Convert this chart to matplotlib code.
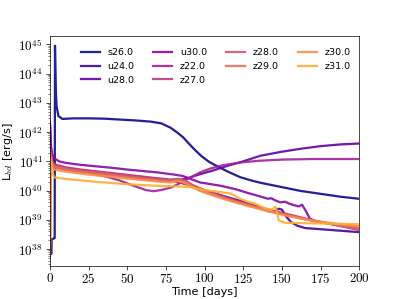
import numpy as np
import matplotlib
matplotlib.use("Agg")
import matplotlib.pyplot as plt
from matplotlib.ticker import FuncFormatter, LogLocator, NullFormatter

plt.rcParams['mathtext.fontset'] = 'cm'

labels = ["s26.0", "u24.0", "u28.0", "u30.0", "z22.0", "z27.0", "z28.0", "z29.0", "z30.0", "z31.0"]

# time (days) and log10 L_bol for each model
t_s26 = [0, 1.0, 1.1, 3.1, 3.3, 3.8, 4.3, 5.5, 8, 15, 25, 35, 45, 55, 65, 72, 78, 82, 86, 90, 94, 98,
         103, 108, 115, 123, 130, 136, 149, 162, 175, 188, 200]
l_s26 = [37.8, 37.85, 38.33, 38.38, 44.95, 43.5, 42.9, 42.55, 42.45, 42.47, 42.47, 42.46, 42.43, 42.4,
         42.36, 42.3, 42.15, 42.0, 41.83, 41.6, 41.38, 41.18, 40.98, 40.84, 40.65, 40.46, 40.35, 40.27,
         40.13, 39.99, 39.89, 39.79, 39.72]

t_u24 = [0, 0.5, 2, 4, 10, 20, 30, 40, 50, 60, 70, 80, 88, 97, 110, 123, 136, 141, 145, 148, 150, 153,
         156, 160, 165, 175, 185, 200]
l_u24 = [42.3, 41.5, 41.0, 40.85, 40.78, 40.7, 40.64, 40.58, 40.52, 40.46, 40.4, 40.33, 40.22, 40.06,
         39.85, 39.65, 39.42, 39.3, 39.28, 39.38, 39.35, 39.1, 38.92, 38.8, 38.72, 38.68, 38.64, 38.58]

t_u28 = [0, 0.5, 2, 4, 10, 20, 30, 40, 50, 60, 70, 78, 84, 90, 97, 105, 115, 125, 136, 150, 162, 175,
         188, 200]
l_u28 = [42.3, 41.4, 40.95, 40.8, 40.72, 40.65, 40.6, 40.54, 40.48, 40.42, 40.36, 40.33, 40.36, 40.44,
         40.56, 40.68, 40.85, 41.0, 41.19, 41.33, 41.43, 41.52, 41.58, 41.61]

t_u30 = [0, 0.5, 1.5, 3, 6, 10, 20, 30, 40, 50, 60, 70, 80, 86, 97, 110, 120, 128, 136, 141, 143, 146,
         149, 152, 155, 158, 161, 163, 165, 168, 172, 180, 190, 200]
l_u30 = [42.4, 41.6, 41.25, 41.1, 41.0, 40.95, 40.88, 40.83, 40.78, 40.72, 40.67, 40.62, 40.55, 40.5,
         40.28, 40.17, 40.05, 39.92, 39.8, 39.72, 39.74, 39.66, 39.6, 39.62, 39.55, 39.5, 39.46, 39.52,
         39.35, 39.05, 38.95, 38.88, 38.8, 38.72]

t_z22 = [0, 0.4, 1.5, 3, 8, 15, 26, 35, 45, 55, 62, 67, 72, 78, 84, 91, 97, 104, 112, 123, 135, 150,
         170, 200]
l_z22 = [37.8, 41.3, 41.0, 40.85, 40.78, 40.72, 40.62, 40.5, 40.35, 40.15, 40.02, 39.98, 40.02, 40.1,
         40.25, 40.45, 40.62, 40.76, 40.87, 40.96, 41.02, 41.06, 41.08, 41.08]

t_z = [0, 0.4, 1.5, 3, 10, 20, 30, 40, 50, 60, 70, 78, 83, 87, 92, 97, 105, 115, 125, 135, 145, 155,
       165, 175, 185, 200]
l_z27 = [37.8, 41.4, 41.0, 40.9, 40.8, 40.72, 40.66, 40.6, 40.54, 40.48, 40.42, 40.38, 40.4, 40.36,
         40.2, 40.08, 39.93, 39.75, 39.58, 39.44, 39.3, 39.18, 39.05, 38.93, 38.82, 38.65]
l_z28 = [37.8, 41.3, 40.95, 40.85, 40.76, 40.68, 40.62, 40.56, 40.5, 40.44, 40.38, 40.35, 40.38, 40.33,
         40.18, 40.05, 39.9, 39.72, 39.56, 39.42, 39.28, 39.15, 39.03, 38.92, 38.82, 38.68]
l_z29 = [37.8, 41.2, 40.9, 40.8, 40.72, 40.64, 40.58, 40.52, 40.46, 40.4, 40.35, 40.32, 40.36, 40.3,
         40.15, 40.02, 39.87, 39.7, 39.54, 39.4, 39.26, 39.13, 39.02, 38.92, 38.84, 38.72]
l_z30 = [37.8, 41.1, 40.82, 40.72, 40.65, 40.58, 40.52, 40.47, 40.41, 40.36, 40.31, 40.28, 40.32, 40.26,
         40.12, 39.99, 39.84, 39.67, 39.52, 39.38, 39.24, 39.12, 39.02, 38.94, 38.87, 38.78]

t_z31 = [0, 0.4, 1.5, 3, 10, 20, 30, 40, 50, 60, 70, 80, 91, 100, 110, 117, 123, 128, 133, 138, 143,
         146, 148, 152, 170, 200]
l_z31 = [37.8, 41.0, 40.6, 40.45, 40.4, 40.35, 40.3, 40.26, 40.22, 40.19, 40.16, 40.15, 40.12, 40.02,
         39.95, 39.9, 39.72, 39.62, 39.55, 39.42, 39.34, 39.45, 38.98, 38.9, 38.88, 38.85]

series = [(t_s26, l_s26), (t_u24, l_u24), (t_u28, l_u28), (t_u30, l_u30), (t_z22, l_z22),
          (t_z, l_z27), (t_z, l_z28), (t_z, l_z29), (t_z, l_z30), (t_z31, l_z31)]

xticks = [0, 25, 50, 75, 100, 125, 150, 175, 200]

fig = plt.figure(figsize=(6.4, 4.8), dpi=62.36)
ax = fig.add_subplot(111)
colors = plt.cm.plasma(np.linspace(0, 0.82, len(labels)))
for (t, l), lab, c in zip(series, labels, colors):
    ax.plot(t, 10 ** np.array(l), color=c, lw=2.6, alpha=0.9, label=lab)

ax.set_yscale('log')
ax.set_xlim(0, 200)
ax.set_ylim(10 ** 37.42, 10 ** 45.3)
ax.set_xticks(xticks)
ax.xaxis.set_major_formatter(FuncFormatter(lambda v, p: r'$%d$' % round(v)))
ax.yaxis.set_major_locator(LogLocator(base=10, numticks=20))
ax.yaxis.set_major_formatter(FuncFormatter(lambda v, p: r'$10^{%d}$' % round(np.log10(v))))
ax.yaxis.set_minor_locator(LogLocator(base=10, subs=np.arange(2, 10), numticks=20))
ax.yaxis.set_minor_formatter(NullFormatter())
ax.tick_params(axis='both', which='major', labelsize=15, length=5)
ax.tick_params(axis='x', which='major', pad=2)
ax.set_xlabel('Time [days]', fontsize=13, labelpad=1)
ax.set_ylabel(r'L$_{bol}$ [erg/s]', fontsize=13)
ax.legend(ncol=4, frameon=False, fontsize=11, loc='upper right', bbox_to_anchor=(1.0, 0.983))
fig.savefig('out.png', dpi=62.36)
